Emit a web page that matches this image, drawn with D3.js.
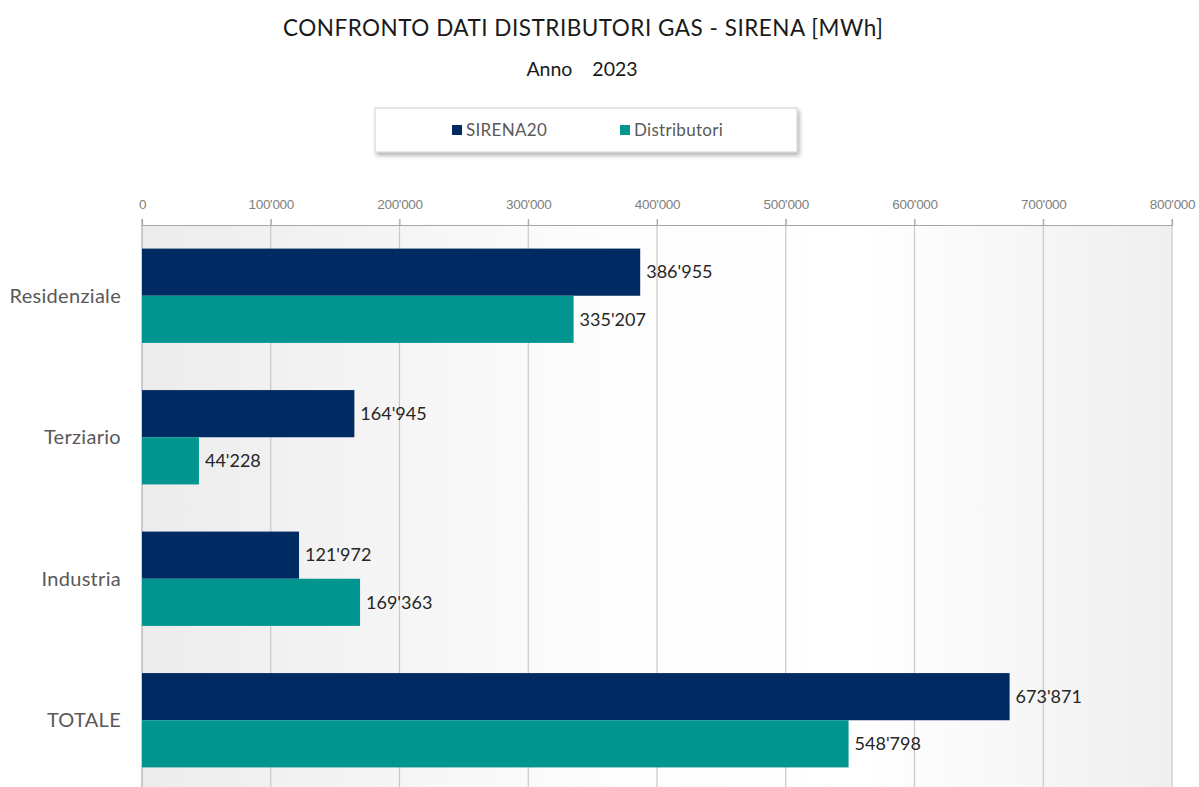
<!DOCTYPE html>
<html><head><meta charset="utf-8">
<script src="https://cdn.jsdelivr.net/npm/d3@7"></script>
<style>body{margin:0;background:#fff;}svg{display:block;font-family:Lato,"Open Sans",sans-serif;}</style>
</head><body>
<script>
const categories = ["Residenziale","Terziario","Industria","TOTALE"];
const seriesNames = ["SIRENA20","Distributori"];
const sirena = [386955,164945,121972,673871];
const distributori = [335207,44228,169363,548798];
const tickValues = [0,100000,200000,300000,400000,500000,600000,700000,800000];
const colors = ["#002b62","#00968f"];

const W=1199,H=787;
const svg=d3.select("body").append("svg").attr("width",W).attr("height",H);
const defs=svg.append("defs");
const g1=defs.append("linearGradient").attr("id","bg").attr("x1","0").attr("x2","1").attr("y1","0").attr("y2","0");
g1.append("stop").attr("offset","0").attr("stop-color","#ececec");
g1.append("stop").attr("offset","0.45").attr("stop-color","#fdfdfd");
g1.append("stop").attr("offset","0.7").attr("stop-color","#ffffff");
g1.append("stop").attr("offset","1").attr("stop-color","#efefef");
const f=defs.append("filter").attr("id","sh").attr("x","-5%").attr("y","-20%").attr("width","115%").attr("height","160%");
f.append("feDropShadow").attr("dx",2).attr("dy",3).attr("stdDeviation",2).attr("flood-color","#000").attr("flood-opacity",0.3);

const x=d3.scaleLinear().domain([0,800000]).range([142,1172]);
const y=d3.scaleBand().domain(categories).range([225,791]).paddingInner(1/3).paddingOuter(1/6);
const y2=d3.scaleBand().domain(seriesNames).range([0,y.bandwidth()]);

svg.append("rect").attr("x",x(0)).attr("y",225).attr("width",x(800000)-x(0)).attr("height",H-225).attr("fill","url(#bg)");

// grid
svg.append("g").selectAll("line").data(tickValues.slice(1)).join("line")
 .attr("x1",d=>x(d)).attr("x2",d=>x(d)).attr("y1",219).attr("y2",H)
 .attr("stroke","#c8c8c8").attr("stroke-width",1.2);
// left axis
svg.append("line").attr("x1",x(0)).attr("x2",x(0)).attr("y1",219).attr("y2",H).attr("stroke","#bdbdbd").attr("stroke-width",1.5);
// top axis
const fmt=d=>d3.format(",")(d).replace(/,/g,"'");
const ax=d3.axisTop(x).tickValues(tickValues).tickFormat(fmt).tickSize(6).tickPadding(10);
const axg=svg.append("g").attr("transform","translate(0,225)").call(ax);
axg.select(".domain").attr("stroke","#a6a6a6").attr("stroke-width",1.2);
axg.selectAll(".tick line").attr("stroke","#a6a6a6");
axg.selectAll("text").attr("fill","#7f7f7f").attr("font-size",13.5).style("letter-spacing","-0.3px");

// bars
const data=categories.map((c,i)=>({c,vals:[sirena[i],distributori[i]]}));
const grp=svg.append("g").selectAll("g").data(data).join("g").attr("transform",d=>`translate(0,${y(d.c)})`);
grp.selectAll("rect").data(d=>d.vals.map((v,j)=>({v,s:seriesNames[j],j}))).join("rect")
 .attr("x",x(0)).attr("y",d=>y2(d.s)).attr("width",d=>x(d.v)-x(0)).attr("height",y2.bandwidth())
 .attr("fill",d=>colors[d.j]);
grp.selectAll("text.v").data(d=>d.vals.map((v,j)=>({v,s:seriesNames[j]}))).join("text").attr("class","v")
 .attr("x",d=>x(d.v)+6).attr("y",d=>y2(d.s)+y2.bandwidth()/2).attr("dy","0.35em")
 .attr("fill","#262626").attr("font-size",18).style("letter-spacing","0px").text(d=>fmt(d.v));

// category labels
svg.append("g").selectAll("text").data(categories).join("text")
 .attr("x",121).attr("y",d=>y(d)+y.bandwidth()/2).attr("dy","0.35em").attr("text-anchor","end")
 .attr("fill","#595959").attr("font-size",20).style("letter-spacing","0.3px").text(d=>d);

// titles
svg.append("text").attr("x",583).attr("y",36).attr("text-anchor","middle").attr("font-size",22.5)
 .attr("fill","#1a1a1a").attr("textLength",600).attr("lengthAdjust","spacing").text("CONFRONTO DATI DISTRIBUTORI GAS - SIRENA [MWh]");
svg.append("text").attr("x",582).attr("y",76).attr("text-anchor","middle").attr("font-size",19.5)
 .attr("fill","#1a1a1a").attr("xml:space","preserve").style("white-space","pre").text("Anno    2023");

// legend
svg.append("rect").attr("x",375).attr("y",108).attr("width",422).attr("height",44).attr("fill","#fff")
 .attr("stroke","#d0d0d0").attr("filter","url(#sh)");
const lx=[452,620];
seriesNames.forEach((s,i)=>{
 svg.append("rect").attr("x",lx[i]).attr("y",125).attr("width",10).attr("height",10).attr("fill",colors[i]);
 svg.append("text").attr("x",lx[i]+14).attr("y",130).attr("dy","0.35em").attr("font-size",17)
  .attr("fill","#595959").style("letter-spacing","0.3px").text(s);
});
</script>
</body></html>
